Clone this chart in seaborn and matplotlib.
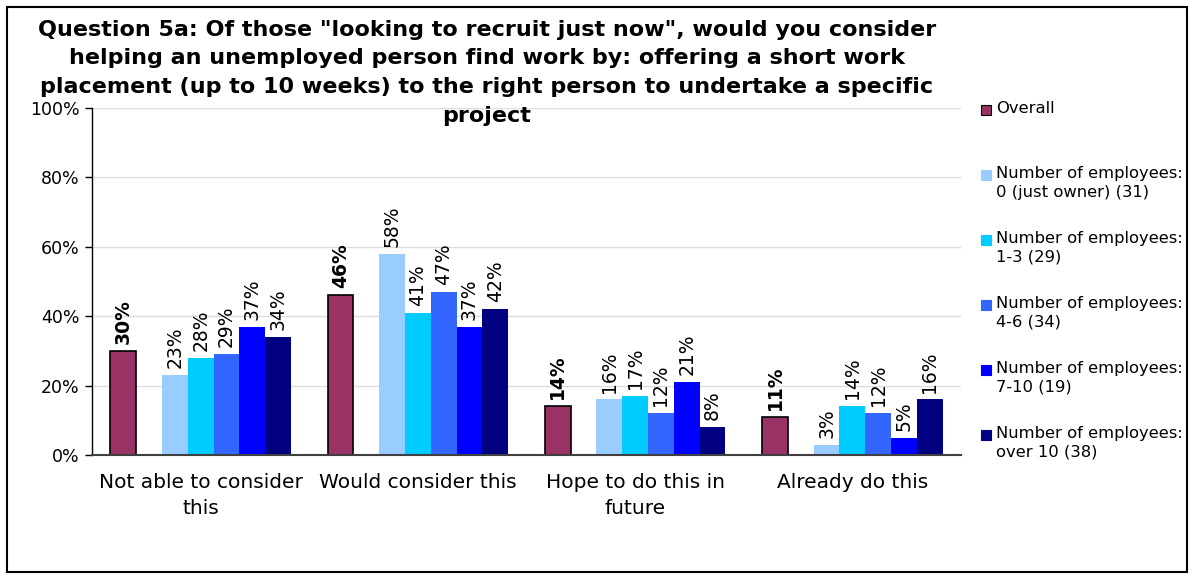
import numpy as np
import pandas as pd
import seaborn as sns
import matplotlib.pyplot as plt
from matplotlib.patches import Rectangle

# chart values (percent)
categories = ["Not able to consider\nthis", "Would consider this",
              "Hope to do this in\nfuture", "Already do this"]
overall = [30, 46, 14, 11]
emp_0 = [23, 58, 16, 3]
emp_1_3 = [28, 41, 17, 14]
emp_4_6 = [29, 47, 12, 12]
emp_7_10 = [37, 37, 21, 5]
emp_over_10 = [34, 42, 8, 16]

series_names = ["Overall",
                "Number of employees:\n0 (just owner) (31)",
                "Number of employees:\n1-3 (29)",
                "Number of employees:\n4-6 (34)",
                "Number of employees:\n7-10 (19)",
                "Number of employees:\nover 10 (38)"]
series_values = [overall, emp_0, emp_1_3, emp_4_6, emp_7_10, emp_over_10]
colors = ["#993366", "#99CCFF", "#00CCFF", "#3366FF", "#0000FF", "#000080"]

title_lines = ['Question 5a: Of those "looking to recruit just now", would you consider',
               'helping an unemployed person find work by: offering a short work',
               'placement (up to 10 weeks) to the right person to undertake a specific',
               'project']

# long table, with an empty spacer series between Overall and the groups
spacer = " "
rows = []
for name, vals in zip(series_names, series_values):
    for cat, v in zip(categories, vals):
        rows.append({"category": cat, "series": name, "value": v})
for cat in categories:
    rows.append({"category": cat, "series": spacer, "value": 0})
df = pd.DataFrame(rows)

hue_order = [series_names[0], spacer] + series_names[1:]
palette = {series_names[0]: colors[0], spacer: "white"}
for name, c in zip(series_names[1:], colors[1:]):
    palette[name] = c

sns.set_style("white")
plt.rcParams['font.family'] = ['DejaVu Sans']
plt.rcParams['text.color'] = 'black'
plt.rcParams['xtick.color'] = 'black'
plt.rcParams['ytick.color'] = 'black'

W, H = 1194, 576
fig = plt.figure(figsize=(W / 100, H / 100), dpi=100)
ax = fig.add_axes([92 / W, 1 - 455 / H, (961 - 92) / W, (455 - 108) / H])

sns.barplot(data=df, x="category", y="value", hue="series", hue_order=hue_order,
            order=categories, palette=palette, width=0.83, saturation=1,
            errorbar=None, linewidth=0, legend=False, ax=ax)

for name, cont in zip(hue_order, ax.containers):
    if name == spacer:
        continue
    bold = name == "Overall"
    if bold:
        for p in cont:
            p.set_edgecolor("black")
            p.set_linewidth(1.2)
    ax.bar_label(cont, labels=[f"{v:.0f}%" for v in cont.datavalues],
                 rotation=90, padding=5, fontsize=13.5, color="black",
                 fontweight="bold" if bold else "normal")

ax.set_ylim(0, 100)
ax.set_xlim(-0.5, 3.5)
ax.set_yticks(np.arange(0, 101, 20))
ax.set_yticklabels([f"{v}%" for v in range(0, 101, 20)], fontsize=12.5)
ax.set_xticks([-0.5, 0.5, 1.5, 2.5, 3.5])
ax.set_xticklabels([])
ax.set_xticks(range(len(categories)), minor=True)
ax.set_xticklabels(categories, minor=True, fontsize=14.5, linespacing=1.45)
ax.tick_params(axis="x", which="major", direction="out", length=5, color="#404040", width=1)
ax.tick_params(axis="x", which="minor", length=0, pad=13)
ax.tick_params(axis="y", direction="out", length=5, color="black", width=1, left=True, pad=4)
ax.set_xlabel("")
ax.set_ylabel("")
ax.yaxis.grid(True, color="#DDDDDD", linewidth=1)
ax.set_axisbelow(True)
for s in ["top", "right"]:
    ax.spines[s].set_visible(False)
ax.spines["left"].set_color("black")
ax.spines["bottom"].set_color("#404040")
ax.spines["left"].set_linewidth(1)
ax.spines["bottom"].set_linewidth(1.5)

# title, one text per line as in the original layout
for line, yc in zip(title_lines, [30, 58, 87, 116]):
    fig.text(487 / W, 1 - yc / H, line, ha="center", va="center", fontsize=16,
             fontweight="bold")

# legend drawn by hand to keep the even spacing of the original
for i, (name, c) in enumerate(zip(series_names, colors)):
    yc = 110 + 65 * i
    fig.patches.append(Rectangle((981 / W, 1 - (yc + 5) / H), 10 / W, 10 / H,
                                 transform=fig.transFigure, facecolor=c,
                                 edgecolor="black" if i == 0 else c, linewidth=0.8))
    fig.text(996 / W, 1 - (yc - 9) / H, name, ha="left", va="top", fontsize=11.8,
             linespacing=1.32)

fig.patches.append(Rectangle((7 / W, 1 - 572 / H), (1187 - 7) / W, (572 - 7) / H,
                             transform=fig.transFigure, fill=False,
                             edgecolor="black", linewidth=1.5))

fig.savefig("out.png", dpi=100)
